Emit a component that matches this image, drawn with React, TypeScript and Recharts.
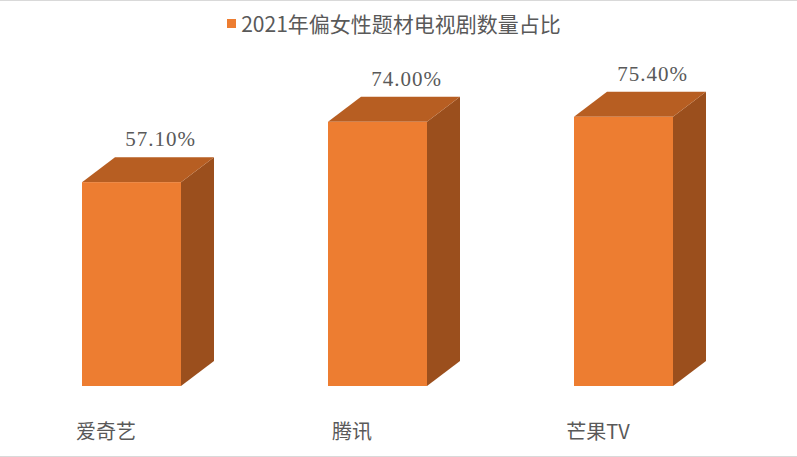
import { Bar, BarChart, LabelList, Legend, XAxis, YAxis } from 'recharts';

const platforms = ['爱奇艺', '腾讯', '芒果TV'];
const shares = [57.1, 74.0, 75.4];
const seriesName = '2021年偏女性题材电视剧数量占比';

const data = platforms.map((p, i) => ({ platform: p, share: shares[i] }));

// 3D depth of the box
const DX = 33;
const DY = 25;
const FRONT = '#ED7D31';
const TOP = '#B75E22';
const SIDE = '#9B4F1D';
const TEXT = '#595959';

function Box3D(props: any) {
  const { x, y, width: w, height: h } = props;
  const top = `${x},${y} ${x + DX},${y - DY} ${x + w + DX},${y - DY} ${x + w},${y}`;
  const side = `${x + w},${y} ${x + w + DX},${y - DY} ${x + w + DX},${y + h - DY} ${x + w},${y + h}`;
  return (
    <g>
      <polygon points={side} fill={SIDE} />
      <polygon points={top} fill={TOP} />
      <rect x={x} y={y} width={w} height={h} fill={FRONT} />
    </g>
  );
}

function ValueLabel(props: any) {
  const { x, y, width, value } = props;
  return (
    <text
      x={x + width / 2 + 29}
      y={y - 36}
      textAnchor="middle"
      fill={TEXT}
      fontSize={21}
      fontFamily="'Liberation Serif', serif"
      letterSpacing={1}
    >
      {`${Number(value).toFixed(2)}%`}
    </text>
  );
}

function PlatformTick(props: any) {
  const { x, y, payload } = props;
  return (
    <text
      x={x - 25}
      y={y + 45}
      textAnchor="middle"
      fill={TEXT}
      fontSize={20}
      fontFamily="'Noto Sans CJK SC', sans-serif"
    >
      {payload.value}
    </text>
  );
}

function LegendBox() {
  return (
    <div
      style={{
        display: 'flex',
        alignItems: 'center',
        justifyContent: 'center',
        paddingRight: 9,
        color: TEXT,
        fontSize: 21,
        fontFamily: "'Noto Sans CJK SC', sans-serif",
        lineHeight: '28px',
      }}
    >
      <span style={{ width: 9, height: 9, background: FRONT, marginRight: 5 }} />
      <span>{seriesName}</span>
    </div>
  );
}

export default function App() {
  return (
    <div
      style={{
        position: 'fixed',
        left: 0,
        top: 0,
        width: 797,
        height: 457,
        background: '#fff',
        borderTop: '1px solid #d9d9d9',
        borderBottom: '1px solid #d9d9d9',
        boxSizing: 'border-box',
      }}
    >
      <BarChart
        width={797}
        height={455}
        data={data}
        margin={{ top: 0, right: 51, left: 8, bottom: 0 }}
      >
        <XAxis
          dataKey="platform"
          height={70}
          axisLine={false}
          tickLine={false}
          tick={<PlatformTick />}
          interval={0}
        />
        <YAxis hide domain={[0, 100]} />
        <Legend
          verticalAlign="top"
          content={() => <LegendBox />}
          wrapperStyle={{ top: 8, left: 0, width: 797 }}
        />
        <Bar
          dataKey="share"
          name={seriesName}
          barSize={99}
          shape={<Box3D />}
          isAnimationActive={false}
        >
          <LabelList dataKey="share" content={<ValueLabel />} />
        </Bar>
      </BarChart>
    </div>
  );
}
